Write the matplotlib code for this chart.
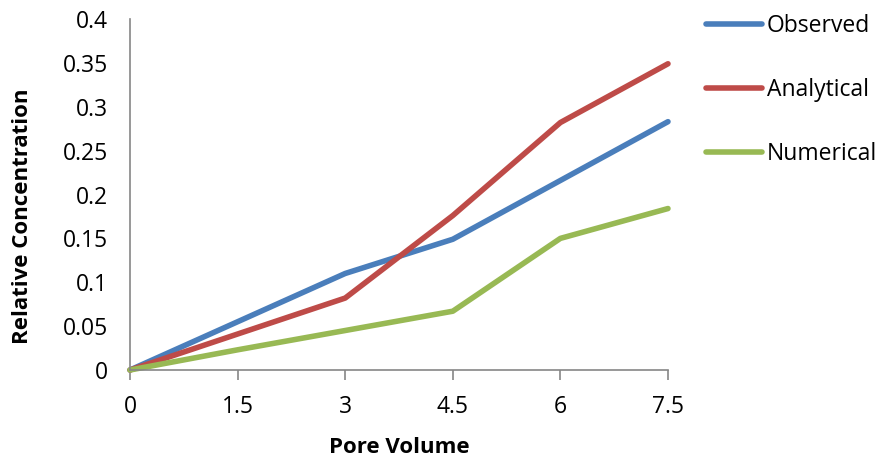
import matplotlib
matplotlib.use("Agg")
import matplotlib.pyplot as plt

pore_volume = [0, 1.5, 3, 4.5, 6, 7.5]
observed = [0, 0.055, 0.110, 0.149, 0.216, 0.283]
analytical = [0, 0.041, 0.082, 0.176, 0.282, 0.349]
numerical = [0, 0.023, 0.045, 0.067, 0.150, 0.184]
x_ticks = [0, 1.5, 3, 4.5, 6, 7.5]
x_tick_labels = ["0", "1.5", "3", "4.5", "6", "7.5"]
y_ticks = [0, 0.05, 0.1, 0.15, 0.2, 0.25, 0.3, 0.35, 0.4]
y_tick_labels = ["0", "0.05", "0.1", "0.15", "0.2", "0.25", "0.3", "0.35", "0.4"]

plt.rcParams['font.family'] = ['Open Sans', 'DejaVu Sans']

W, H = 884, 463
fig = plt.figure(figsize=(W / 100, H / 100), dpi=100)
ax = fig.add_axes([130 / W, (H - 370) / H, (668 - 130) / W, (370 - 19) / H])

series = [("Observed", observed, "#4A7EBB"),
          ("Analytical", analytical, "#BE4B48"),
          ("Numerical", numerical, "#98B954")]
for name, vals, col in series:
    ax.plot(pore_volume, vals, color=col, lw=4, label=name,
            solid_capstyle="round", solid_joinstyle="round", clip_on=False)

ax.set_xlim(0, 7.5)
ax.set_ylim(0, 0.4)
ax.set_xticks(x_ticks)
ax.set_xticklabels(x_tick_labels)
ax.set_yticks(y_ticks)
ax.set_yticklabels(y_tick_labels)

for s in ["top", "right"]:
    ax.spines[s].set_visible(False)
for s in ["left", "bottom"]:
    ax.spines[s].set_color("#868686")
    ax.spines[s].set_linewidth(1.2)

ax.tick_params(axis="x", length=7, width=1.2, color="#868686", labelsize=16.5, pad=11)
ax.tick_params(axis="y", length=0, labelsize=16.5, pad=16)

ax.set_xlabel("Pore Volume", fontsize=16, fontweight="bold", labelpad=13)
ax.set_ylabel("Relative Concentration", fontsize=16, fontweight="bold")
ax.yaxis.set_label_coords((23 - 130) / 538, (370 - 216) / 351)
ax.yaxis.label.set_verticalalignment("center")

leg = ax.legend(loc="upper left", bbox_to_anchor=(706 / W, (H - 14) / H),
                bbox_transform=fig.transFigure, frameon=False, fontsize=16.5,
                handlelength=2.45, handletextpad=0.2, labelspacing=1.75,
                borderaxespad=0, borderpad=0)

fig.savefig("out.png", dpi=100)
